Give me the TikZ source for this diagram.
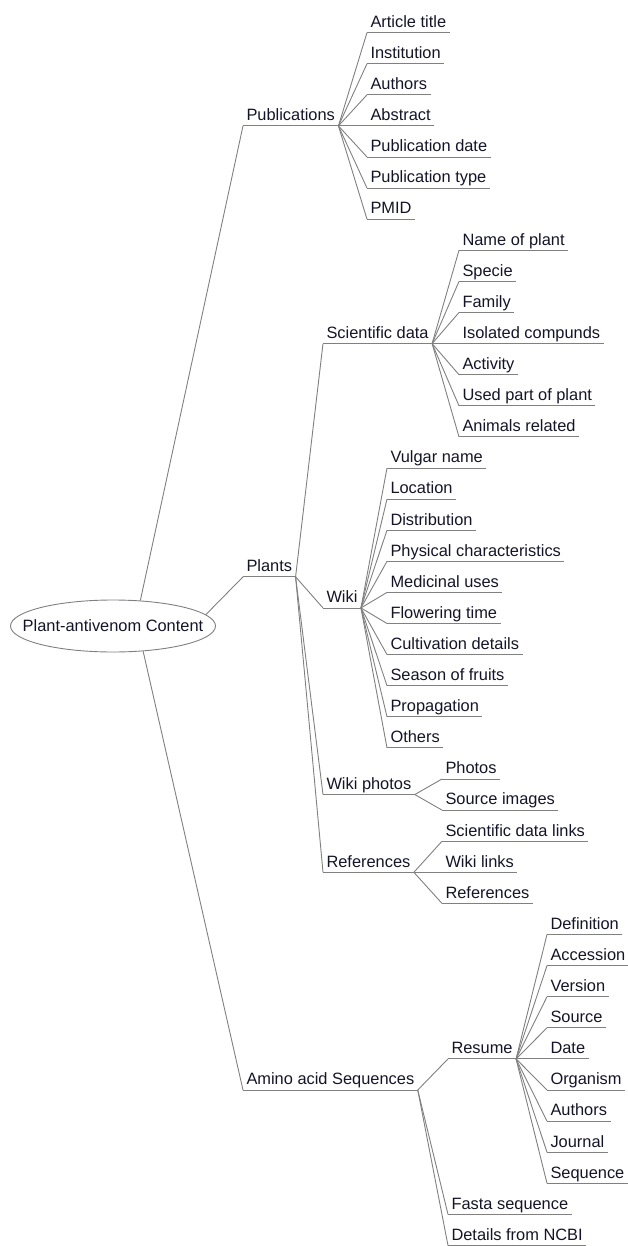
\documentclass[tikz,border=0pt]{standalone}
\usepackage{fontspec}
\setmainfont{Liberation Sans}
\usepackage{xcolor}
\usetikzlibrary{shapes.geometric}
\definecolor{linegray}{RGB}{128, 128, 128}
\definecolor{textdark}{RGB}{20, 20, 40}

\begin{document}
\begin{tikzpicture}[x=1pt, y=-1pt, font=\fontsize{16.4}{19}\selectfont]
    \tikzset{
        branch/.style={draw=linegray, line width=0.9pt},
        topic/.style={anchor=south west, inner xsep=3.3pt, inner ysep=1.5pt, text height=12pt, text depth=3.5pt, text=textdark,
            append after command={(\tikzlastnode.south west) edge[branch] (\tikzlastnode.south east)}},
        central/.style={ellipse, draw=linegray, line width=0.9pt, minimum width=205pt, minimum height=52pt, inner xsep=-22pt, inner ysep=0pt, text=textdark}
    }
    \useasboundingbox (0,0) rectangle (627,1246);

    \node[central] (root) at (113,626) {Plant-antivenom Content};

    % first level
    \node[topic] (pub) at (243,{32.6+31.1*3}) {Publications};
    \node[topic] (plants) at (243,{32.6+31.1*17.5}) {Plants};
    \node[topic] (amino) at (243,{32.6+31.1*34}) {Amino acid Sequences};
    \draw[branch] (root.43) -- (pub.south west);
    \draw[branch] (root.7) -- (plants.south west);
    \draw[branch] (root.-40) -- (amino.south west);

    % publications
    \foreach \txt [count=\i from 0] in {Article title, Institution, Authors, Abstract, Publication date, Publication type, PMID} {
        \node[topic] (pub\i) at (367,{32.6+31.1*\i}) {\txt};
        \draw[branch] (pub.south east) -- (pub\i.south west);
    }

    % plants
    \node[topic] (sci) at (323,{32.6+31.1*10}) {Scientific data};
    \node[topic] (wiki) at (323,{32.6+31.1*18.5}) {Wiki};
    \node[topic] (photos) at (323,{32.6+31.1*24.5}) {Wiki photos};
    \node[topic] (refs) at (323,{32.6+31.1*27}) {References};
    \foreach \n in {sci, wiki, photos, refs}
        \draw[branch] (plants.south east) -- (\n.south west);

    \foreach \txt [count=\i from 7] in {Name of plant, Specie, Family, Isolated compunds, Activity, Used part of plant, Animals related} {
        \node[topic] (sci\i) at (459,{32.6+31.1*\i}) {\txt};
        \draw[branch] (sci.south east) -- (sci\i.south west);
    }
    \foreach \txt [count=\i from 14] in {Vulgar name, Location, Distribution, Physical characteristics, Medicinal uses, Flowering time, Cultivation details, Season of fruits, Propagation, Others} {
        \node[topic] (wiki\i) at (387,{32.6+31.1*\i}) {\txt};
        \draw[branch] (wiki.south east) -- (wiki\i.south west);
    }
    \foreach \txt [count=\i from 24] in {Photos, Source images} {
        \node[topic] (photos\i) at (442,{32.6+31.1*\i}) {\txt};
        \draw[branch] (photos.south east) -- (photos\i.south west);
    }
    \foreach \txt [count=\i from 26] in {Scientific data links, Wiki links, References} {
        \node[topic] (refs\i) at (442,{32.6+31.1*\i}) {\txt};
        \draw[branch] (refs.south east) -- (refs\i.south west);
    }

    % amino acid sequences
    \node[topic] (resume) at (448,{32.6+31.1*33}) {Resume};
    \node[topic] (fasta) at (448,{32.6+31.1*38}) {Fasta sequence};
    \node[topic] (ncbi) at (448,{32.6+31.1*39}) {Details from NCBI};
    \foreach \n in {resume, fasta, ncbi}
        \draw[branch] (amino.south east) -- (\n.south west);

    \foreach \txt [count=\i from 29] in {Definition, Accession, Version, Source, Date, Organism, Authors, Journal, Sequence} {
        \node[topic] (resume\i) at (547,{32.6+31.1*\i}) {\txt};
        \draw[branch] (resume.south east) -- (resume\i.south west);
    }
\end{tikzpicture}
\end{document}
